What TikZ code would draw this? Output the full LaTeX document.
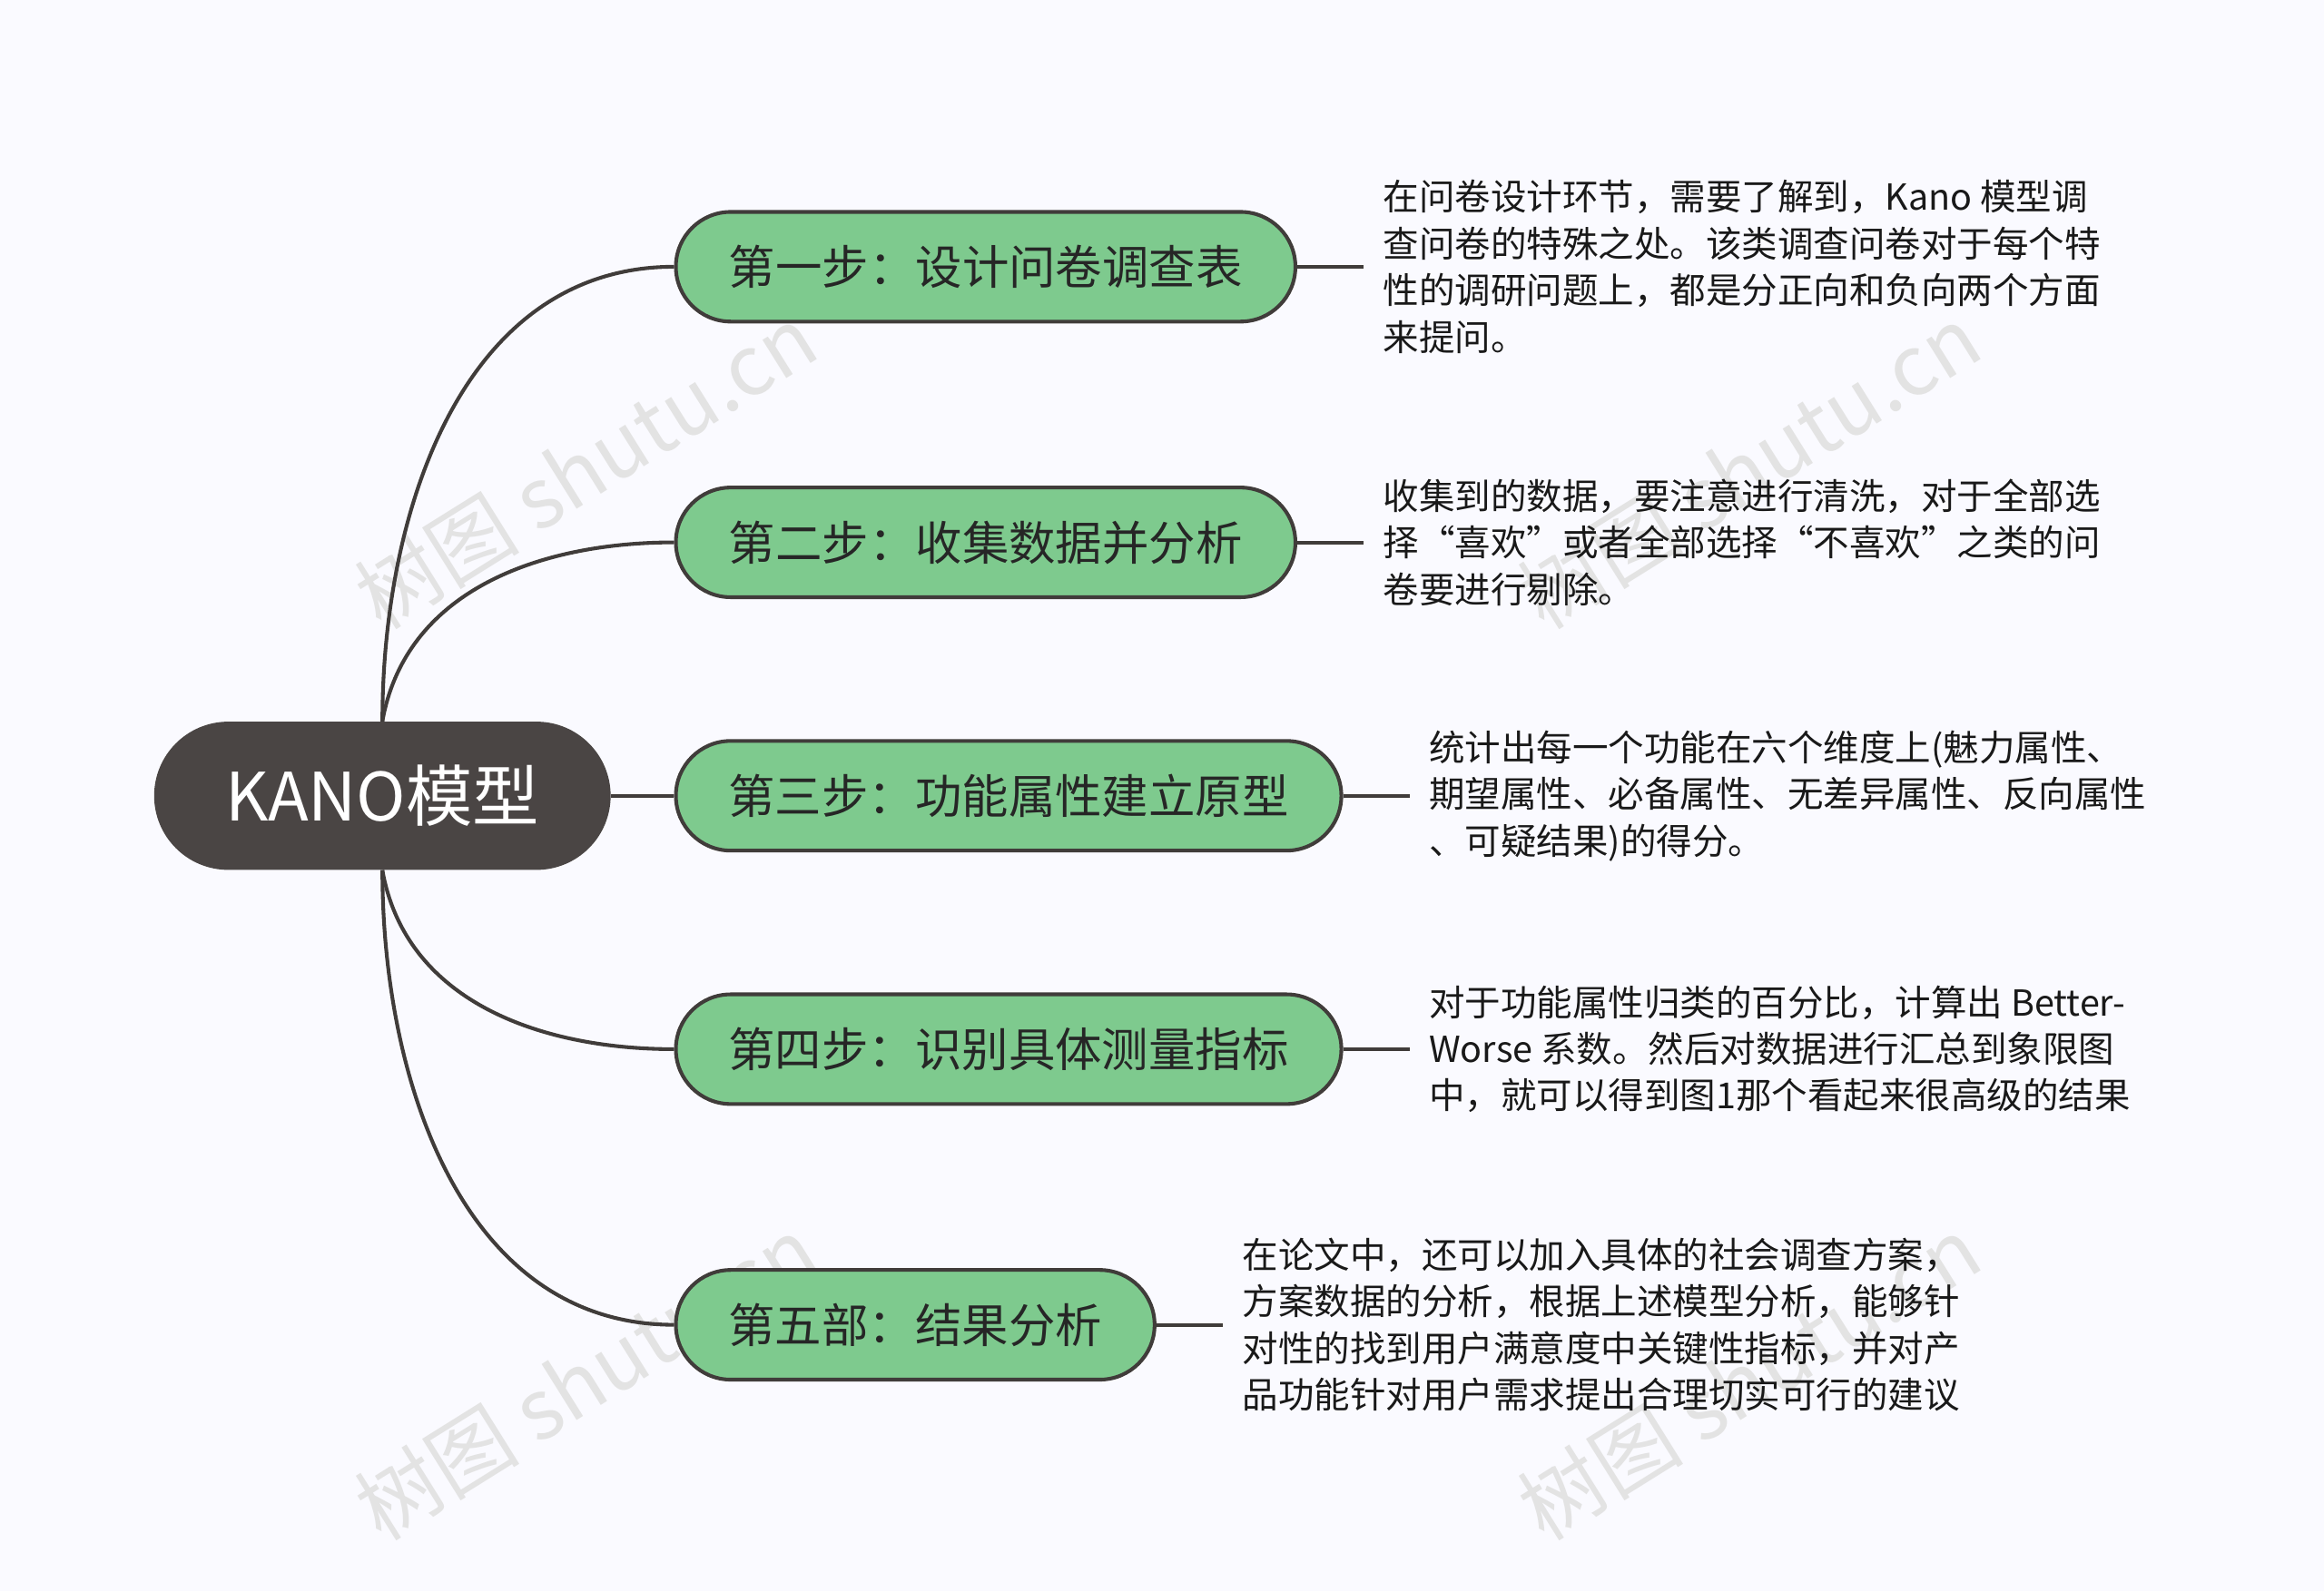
\documentclass[tikz,border=0pt]{standalone}
\usepackage{fontspec}
\setmainfont{Noto Sans CJK SC}
\definecolor{nodegreen}{RGB}{126,202,142}
\definecolor{rootgray}{RGB}{74,69,68}
\definecolor{lineg}{RGB}{64,60,58}
\begin{document}
\begin{tikzpicture}[x=1pt,y=-1pt,
  br/.style={draw=lineg,line width=2.5pt,fill=nodegreen,rounded corners=37pt,minimum height=74pt,font=\fontsize{31.5}{36}\selectfont,text=black!85},
  ds/.style={anchor=west,align=left,inner sep=0pt,font=\fontsize{24.2}{31.5}\selectfont,text=black!90},
  cn/.style={draw=lineg,line width=2.5pt},
  wm/.style={text=black!11,rotate=32,font=\fontsize{56}{60}\selectfont}]
\fill[blue!2!white] (0,0) rectangle (1568,1074);
\useasboundingbox (0,0) rectangle (1568,1074);
\node[wm] (w1) at (395,315) {树图 shutu.cn};
\node[wm] (w2) at (1180,315) {树图 shutu.cn};
\node[wm] (w3) at (395,930) {树图 shutu.cn};
\node[wm] (w4) at (1180,930) {树图 shutu.cn};
\node[fill=rootgray,rounded corners=50pt,minimum width=308pt,minimum height=100pt,text=white,font=\fontsize{45}{48}\selectfont] (root) at (258,537) {KANO模型};
\node[br,minimum width=418pt] (n1) at (665,180) {第一步：设计问卷调查表};
\node[br,minimum width=418pt] (n2) at (665,366) {第二步：收集数据并分析};
\node[br,minimum width=449pt] (n3) at (680.5,537) {第三步：功能属性建立原型};
\node[br,minimum width=449pt] (n4) at (680.5,708) {第四步：识别具体测量指标};
\node[br,minimum width=323pt] (n5) at (617.5,894) {第五部：结果分析};
\draw[cn] (root.north) to[out=90,in=180] (n1.west);
\draw[cn] (root.north) to[out=80,in=180] (n2.west);
\draw[cn] (root.east) -- (n3.west);
\draw[cn] (root.south) to[out=-80,in=180] (n4.west);
\draw[cn] (root.south) to[out=-90,in=180] (n5.west);
\node[ds] (d1) at (933,180) {在问卷设计环节，需要了解到，Kano 模型调\\查问卷的特殊之处。该类调查问卷对于每个特\\性的调研问题上，都是分正向和负向两个方面\\来提问。};
\node[ds] (d2) at (933,366) {收集到的数据，要注意进行清洗，对于全部选\\择“喜欢”或者全部选择“不喜欢”之类的问\\卷要进行剔除。};
\node[ds] (d3) at (964,537) {统计出每一个功能在六个维度上(魅力属性、\\期望属性、必备属性、无差异属性、反向属性\\、可疑结果)的得分。};
\node[ds] (d4) at (964,708) {对于功能属性归类的百分比，计算出 Better-\\Worse 系数。然后对数据进行汇总到象限图\\中，就可以得到图1那个看起来很高级的结果};
\node[ds] (d5) at (838,894) {在论文中，还可以加入具体的社会调查方案，\\方案数据的分析，根据上述模型分析，能够针\\对性的找到用户满意度中关键性指标，并对产\\品功能针对用户需求提出合理切实可行的建议};
\draw[cn] (n1.east) -- ++(45,0) coordinate (e1);
\draw[cn] (n2.east) -- ++(45,0) coordinate (e2);
\draw[cn] (n3.east) -- ++(45,0) coordinate (e3);
\draw[cn] (n4.east) -- ++(45,0) coordinate (e4);
\draw[cn] (n5.east) -- ++(45,0) coordinate (e5);
\end{tikzpicture}
\end{document}
